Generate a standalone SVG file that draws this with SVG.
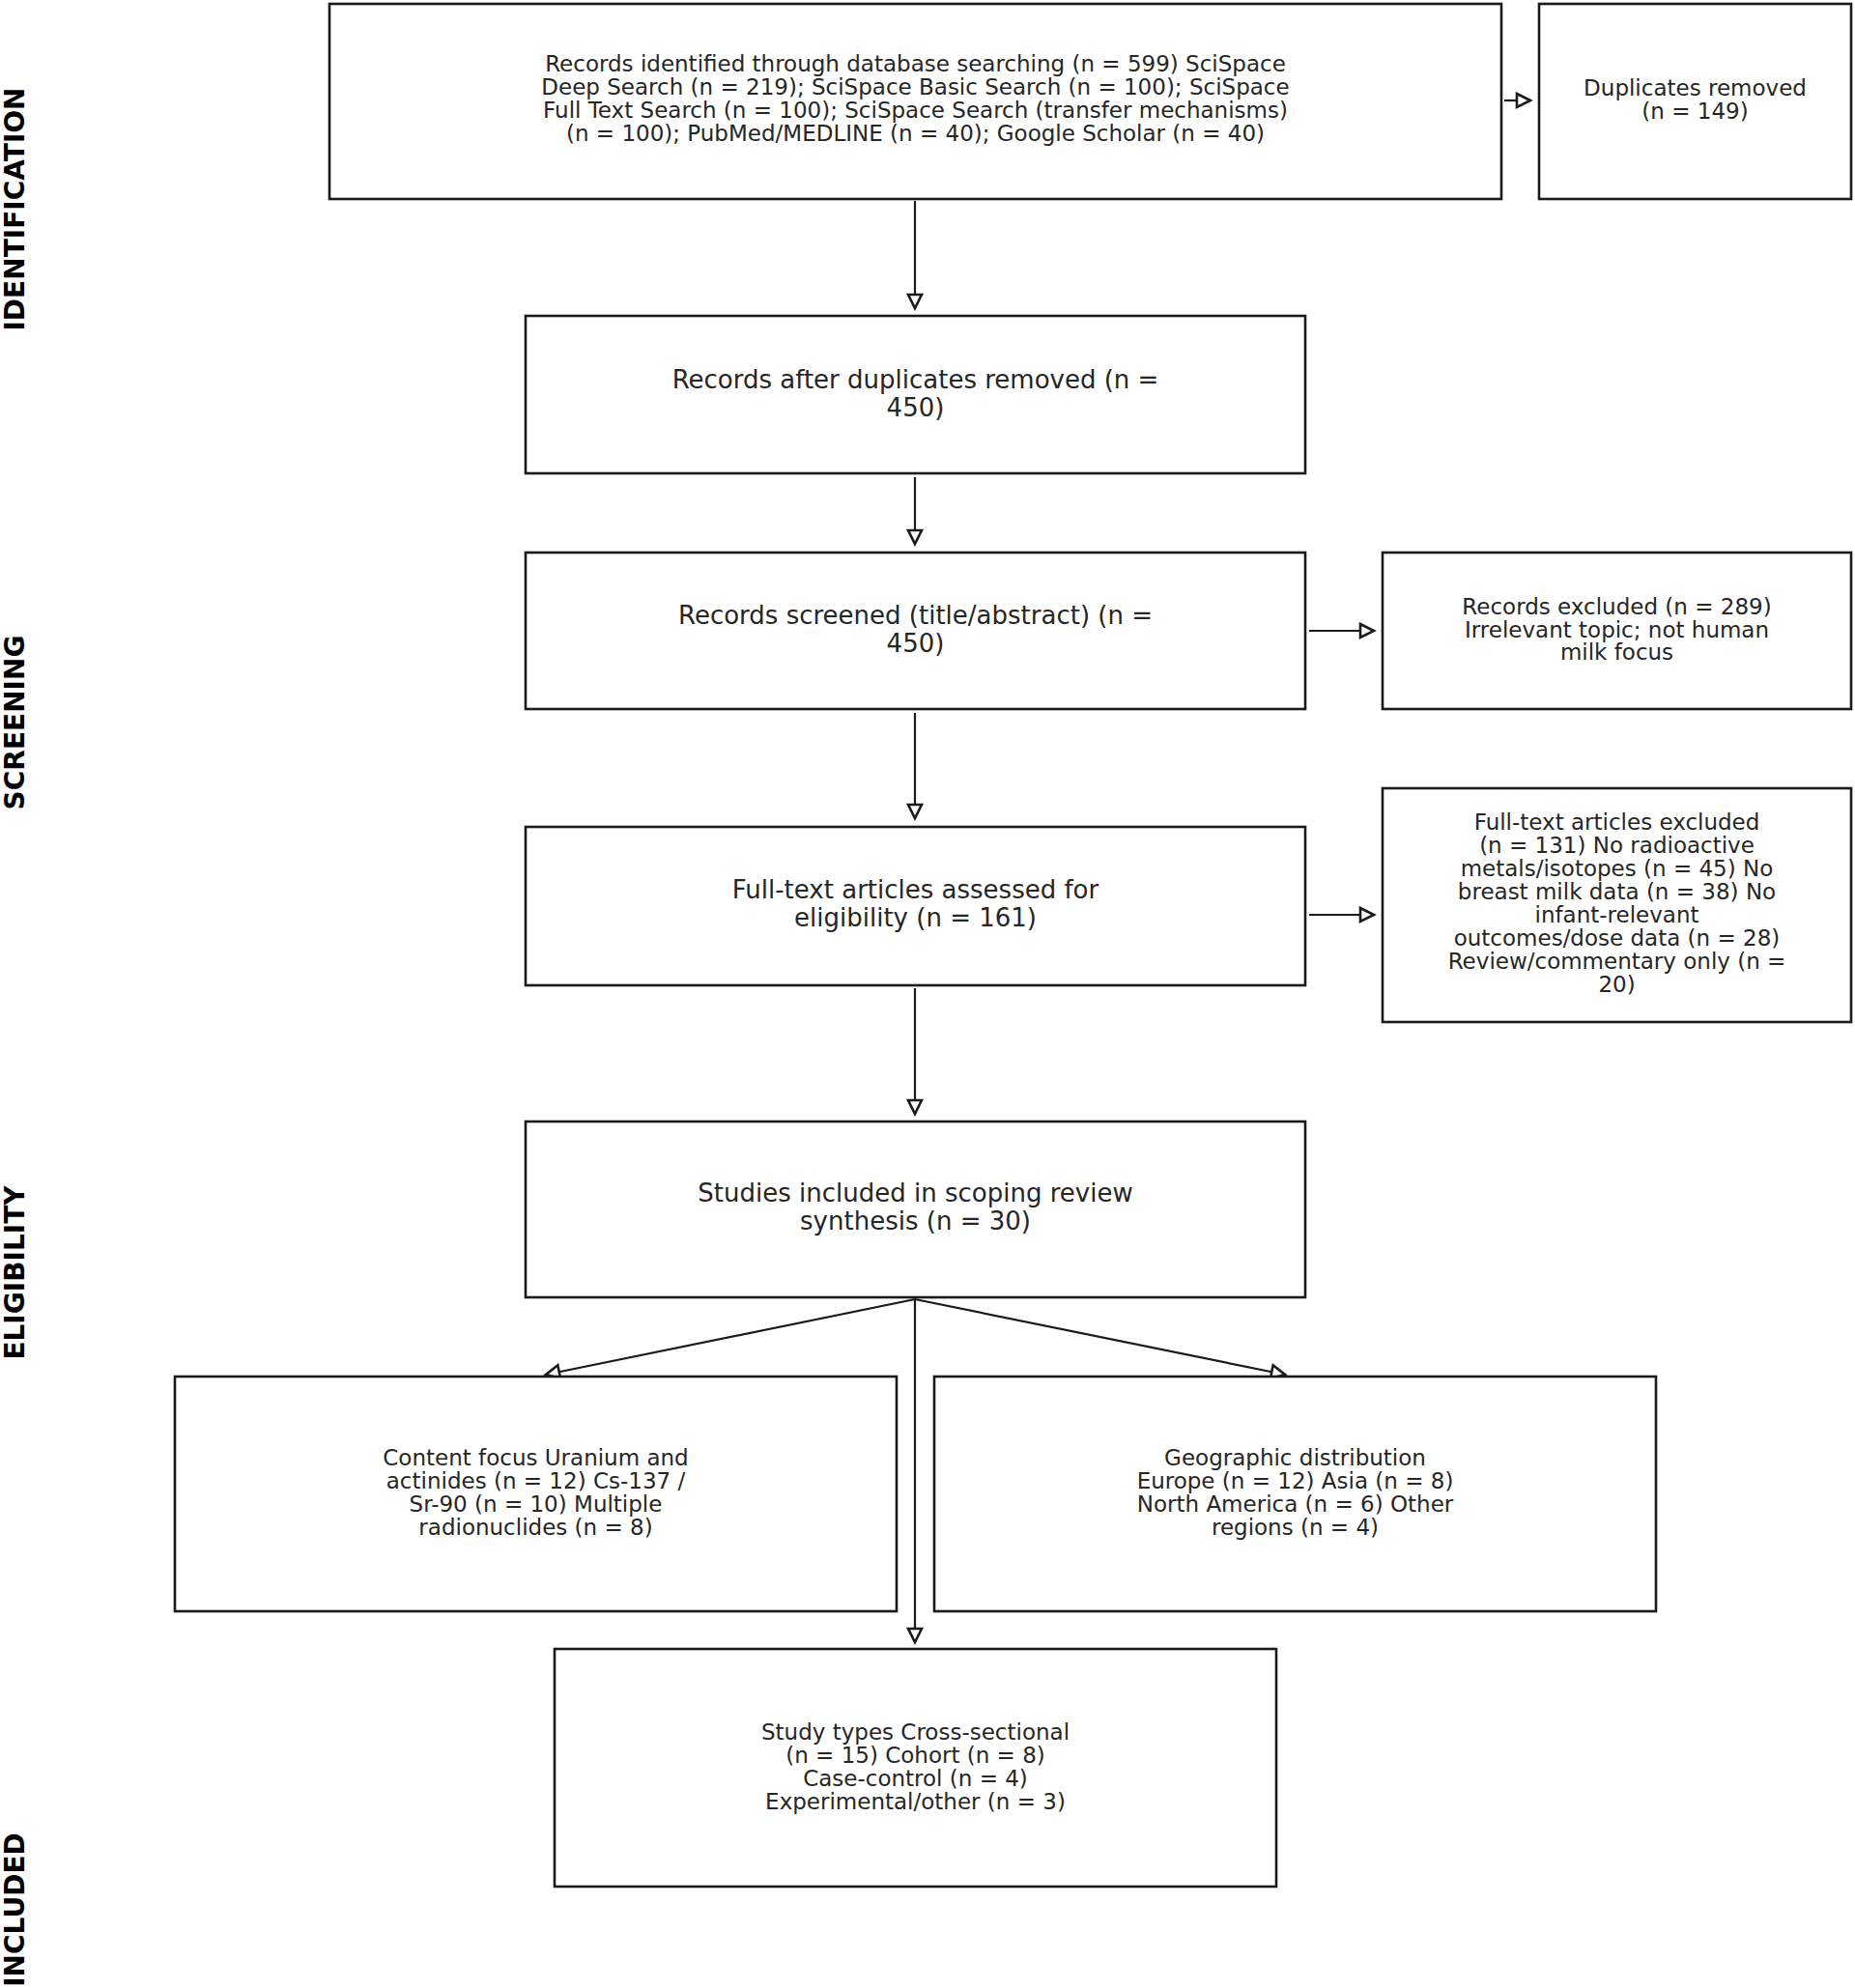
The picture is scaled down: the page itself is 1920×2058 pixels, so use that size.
<svg xmlns="http://www.w3.org/2000/svg" width="1920" height="2058" viewBox="0 0 1920 2058">
<style>
.box{fill:#ffffff;stroke:#1a1a1a;stroke-width:2.6}
.t{font-family:"DejaVu Sans",Verdana,sans-serif;fill:#262626;text-anchor:middle}
.s{font-size:23px}
.m{font-size:26px}
.lab{font-family:"DejaVu Sans",Verdana,sans-serif;font-weight:bold;font-size:28px;fill:#000;text-anchor:middle}
.c{fill:none;stroke:#1a1a1a;stroke-width:2.2;marker-end:url(#arr)}
</style>
<defs>
<marker id="arr" markerUnits="userSpaceOnUse" viewBox="-2 -10 20 20" markerWidth="20" markerHeight="20" refX="15" refY="0" orient="auto">
<path d="M1,-7 L15,0 L1,7 Z" fill="#ffffff" stroke="#1a1a1a" stroke-width="2.6" stroke-linejoin="miter"/>
</marker>
</defs>
<rect width="1920" height="2058" fill="#ffffff"/>

<g id="phase-labels">
<text class="lab" transform="translate(25,216.5) rotate(-90)">IDENTIFICATION</text>
<text class="lab" transform="translate(25,748) rotate(-90)">SCREENING</text>
<text class="lab" transform="translate(25,1317.5) rotate(-90)">ELIGIBILITY</text>
<text class="lab" transform="translate(25,1977) rotate(-90)">INCLUDED</text>
</g>

<g id="connectors">
<line class="c" x1="947" y1="208" x2="947" y2="319"/>
<line class="c" x1="1557" y1="104" x2="1584" y2="104"/>
<line class="c" x1="947" y1="494" x2="947" y2="563"/>
<line class="c" x1="1355" y1="653" x2="1422" y2="653"/>
<line class="c" x1="947" y1="738" x2="947" y2="847"/>
<line class="c" x1="1355" y1="947" x2="1422" y2="947"/>
<line class="c" x1="947" y1="1023" x2="947" y2="1153"/>
<line class="c" x1="947" y1="1345" x2="565" y2="1423"/>
<line class="c" x1="947" y1="1345" x2="1330" y2="1423"/>
<line class="c" x1="947" y1="1345" x2="947" y2="1700"/>
</g>

<g id="records-identified">
<rect class="box" x="341" y="4" width="1213" height="202"/>
<text class="t s" x="947.5" y="74">Records identified through database searching (n = 599) SciSpace</text>
<text class="t s" x="947.5" y="98">Deep Search (n = 219); SciSpace Basic Search (n = 100); SciSpace</text>
<text class="t s" x="947.5" y="122">Full Text Search (n = 100); SciSpace Search (transfer mechanisms)</text>
<text class="t s" x="947.5" y="146">(n = 100); PubMed/MEDLINE (n = 40); Google Scholar (n = 40)</text>
</g>

<g id="duplicates-removed">
<rect class="box" x="1593" y="4" width="323" height="202"/>
<text class="t s" x="1754.5" y="99">Duplicates removed</text>
<text class="t s" x="1754.5" y="123">(n = 149)</text>
</g>

<g id="records-after-duplicates">
<rect class="box" x="544" y="327" width="807" height="163"/>
<text class="t m" x="947.5" y="402">Records after duplicates removed (n =</text>
<text class="t m" x="947.5" y="431">450)</text>
</g>

<g id="records-screened">
<rect class="box" x="544" y="572" width="807" height="162"/>
<text class="t m" x="947.5" y="646">Records screened (title/abstract) (n =</text>
<text class="t m" x="947.5" y="675">450)</text>
</g>

<g id="records-excluded">
<rect class="box" x="1431" y="572" width="485" height="162"/>
<text class="t s" x="1673.5" y="636">Records excluded (n = 289)</text>
<text class="t s" x="1673.5" y="660">Irrelevant topic; not human</text>
<text class="t s" x="1673.5" y="683">milk focus</text>
</g>

<g id="fulltext-assessed">
<rect class="box" x="544" y="856" width="807" height="164"/>
<text class="t m" x="947.5" y="930">Full-text articles assessed for</text>
<text class="t m" x="947.5" y="959">eligibility (n = 161)</text>
</g>

<g id="fulltext-excluded">
<rect class="box" x="1431" y="816" width="485" height="242"/>
<text class="t s" x="1673.5" y="859">Full-text articles excluded</text>
<text class="t s" x="1673.5" y="883">(n = 131) No radioactive</text>
<text class="t s" x="1673.5" y="907">metals/isotopes (n = 45) No</text>
<text class="t s" x="1673.5" y="931">breast milk data (n = 38) No</text>
<text class="t s" x="1673.5" y="955">infant-relevant</text>
<text class="t s" x="1673.5" y="979">outcomes/dose data (n = 28)</text>
<text class="t s" x="1673.5" y="1003">Review/commentary only (n =</text>
<text class="t s" x="1673.5" y="1027">20)</text>
</g>

<g id="studies-included">
<rect class="box" x="544" y="1161" width="807" height="182"/>
<text class="t m" x="947.5" y="1244">Studies included in scoping review</text>
<text class="t m" x="947.5" y="1273">synthesis (n = 30)</text>
</g>

<g id="content-focus">
<rect class="box" x="181" y="1425" width="747" height="243"/>
<text class="t s" x="554.5" y="1517">Content focus Uranium and</text>
<text class="t s" x="554.5" y="1541">actinides (n = 12) Cs-137 /</text>
<text class="t s" x="554.5" y="1565">Sr-90 (n = 10) Multiple</text>
<text class="t s" x="554.5" y="1589">radionuclides (n = 8)</text>
</g>

<g id="geographic-distribution">
<rect class="box" x="967" y="1425" width="747" height="243"/>
<text class="t s" x="1340.5" y="1517">Geographic distribution</text>
<text class="t s" x="1340.5" y="1541">Europe (n = 12) Asia (n = 8)</text>
<text class="t s" x="1340.5" y="1565">North America (n = 6) Other</text>
<text class="t s" x="1340.5" y="1589">regions (n = 4)</text>
</g>

<g id="study-types">
<rect class="box" x="574" y="1707" width="747" height="246"/>
<text class="t s" x="947.5" y="1801">Study types Cross-sectional</text>
<text class="t s" x="947.5" y="1825">(n = 15) Cohort (n = 8)</text>
<text class="t s" x="947.5" y="1849">Case-control (n = 4)</text>
<text class="t s" x="947.5" y="1873">Experimental/other (n = 3)</text>
</g>
</svg>
